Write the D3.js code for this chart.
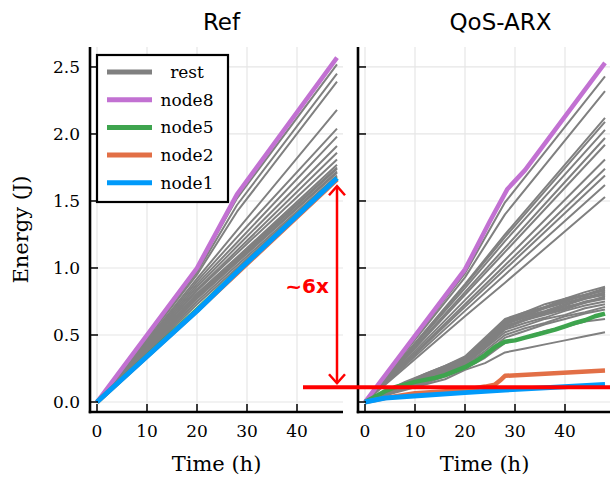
<!DOCTYPE html>
<html>
<head>
<meta charset="utf-8">
<script src="https://cdn.jsdelivr.net/npm/d3@7.9.0/dist/d3.min.js"></script>
<style>
  body { margin: 0; background: #fff; }
  text { fill: #000; }
  .tick-label { font-family: "DejaVu Serif", serif; font-size: 17px; }
  .axis-title { font-family: "DejaVu Serif", serif; font-size: 21px; }
  .panel-title { font-family: "DejaVu Sans", sans-serif; font-size: 23px; }
  .legend-label { font-family: "DejaVu Serif", serif; font-size: 17px; }
</style>
</head>
<body>
<svg id="fig" width="610" height="477"></svg>
<script>
// ---- data ----
const xTicks = [0, 10, 20, 30, 40];
const yTicks = [0, 0.5, 1.0, 1.5, 2.0, 2.5];
const yTickLabels = ["0.0", "0.5", "1.0", "1.5", "2.0", "2.5"];
const panelTitles = ["Ref", "QoS-ARX"];
const legendLabels = ["rest", "node8", "node5", "node2", "node1"];
const legendColors = ["#808080", "#c271d2", "#3ea44e", "#e26f46", "#009afa"];

// Ref panel (energy at these hours)
const refTimes = [0, 20, 28, 48];
const refRest = [
  [0, 0.99, 1.52, 2.52],
  [0, 0.97, 1.47, 2.45],
  [0, 0.95, 1.42, 2.39],
  [0, 0.92, 1.28, 2.18],
  [0, 0.90, 1.23, 2.04],
  [0, 0.88, 1.19, 1.98],
  [0, 0.86, 1.16, 1.91],
  [0, 0.84, 1.13, 1.86],
  [0, 0.83, 1.11, 1.81],
  [0, 0.81, 1.08, 1.77],
  [0, 0.80, 1.07, 1.75],
  [0, 0.79, 1.06, 1.74],
  [0, 0.78, 1.05, 1.72],
  [0, 0.77, 1.04, 1.71],
  [0, 0.75, 1.02, 1.69],
  [0, 0.73, 1.00, 1.68]
];
const refNode8 = [0, 1.00, 1.55, 2.57];
const refNode5 = [0, 0.69, 0.97, 1.67];
const refNode2 = [0, 0.68, 0.96, 1.66];
const refNode1 = [0, 0.68, 0.97, 1.67];

// QoS-ARX panel
const qosFanTimes = [0, 20, 28, 48];
const qosFanRest = [
  [0, 0.96, 1.49, 2.43],
  [0, 0.93, 1.40, 2.32],
  [0, 0.88, 1.25, 2.12],
  [0, 0.87, 1.23, 2.09],
  [0, 0.85, 1.20, 2.03],
  [0, 0.82, 1.15, 1.97],
  [0, 0.80, 1.12, 1.92],
  [0, 0.76, 1.06, 1.81],
  [0, 0.73, 1.02, 1.74],
  [0, 0.71, 0.99, 1.69],
  [0, 0.68, 0.95, 1.62],
  [0, 0.64, 0.89, 1.53]
];
const qosBundleTimes = [0, 4, 8, 12, 16, 20, 24, 28, 32, 36, 40, 44, 48];
const qosBundleRest = [
  [0, 0.08, 0.15, 0.21, 0.27, 0.34, 0.48, 0.62, 0.67, 0.73, 0.77, 0.82, 0.86],
  [0, 0.08, 0.14, 0.21, 0.27, 0.33, 0.47, 0.61, 0.67, 0.71, 0.77, 0.80, 0.85],
  [0, 0.07, 0.14, 0.20, 0.26, 0.33, 0.46, 0.60, 0.66, 0.70, 0.76, 0.79, 0.84],
  [0, 0.07, 0.14, 0.20, 0.25, 0.32, 0.46, 0.60, 0.65, 0.71, 0.75, 0.80, 0.83],
  [0, 0.07, 0.13, 0.19, 0.25, 0.32, 0.45, 0.59, 0.64, 0.70, 0.74, 0.78, 0.82],
  [0, 0.07, 0.13, 0.19, 0.24, 0.31, 0.45, 0.58, 0.64, 0.68, 0.73, 0.77, 0.81],
  [0, 0.07, 0.13, 0.18, 0.24, 0.31, 0.44, 0.58, 0.63, 0.67, 0.72, 0.77, 0.80],
  [0, 0.06, 0.12, 0.18, 0.23, 0.30, 0.43, 0.57, 0.61, 0.67, 0.71, 0.74, 0.79],
  [0, 0.06, 0.12, 0.17, 0.23, 0.30, 0.43, 0.56, 0.62, 0.66, 0.70, 0.75, 0.78],
  [0, 0.06, 0.12, 0.17, 0.23, 0.30, 0.42, 0.55, 0.61, 0.65, 0.69, 0.74, 0.77],
  [0, 0.06, 0.11, 0.17, 0.22, 0.29, 0.41, 0.54, 0.59, 0.63, 0.68, 0.72, 0.75],
  [0, 0.06, 0.11, 0.16, 0.22, 0.28, 0.40, 0.52, 0.57, 0.62, 0.65, 0.70, 0.73],
  [0, 0.05, 0.10, 0.15, 0.21, 0.27, 0.38, 0.50, 0.55, 0.59, 0.64, 0.67, 0.71],
  [0, 0.05, 0.10, 0.15, 0.20, 0.26, 0.36, 0.48, 0.53, 0.58, 0.62, 0.66, 0.69],
  [0, 0.05, 0.10, 0.14, 0.19, 0.25, 0.33, 0.44, 0.48, 0.53, 0.56, 0.60, 0.62],
  [0, 0.05, 0.09, 0.13, 0.17, 0.24, 0.29, 0.37, 0.40, 0.43, 0.46, 0.49, 0.52]
];
const qosNode8Times = [0, 20, 25, 28.5, 30, 32, 48];
const qosNode8 = [0, 0.99, 1.35, 1.59, 1.65, 1.73, 2.53];
const qosNode5Times = [0, 2, 4, 6, 8, 10, 12, 14, 16, 18, 20, 22, 24, 26, 28, 30, 32, 34, 36, 38, 40, 42, 44, 46, 48];
const qosNode5 = [0, 0.04, 0.08, 0.11, 0.13, 0.15, 0.165, 0.18, 0.20, 0.23, 0.26, 0.30, 0.35, 0.41, 0.45, 0.46, 0.48, 0.50, 0.52, 0.54, 0.565, 0.59, 0.61, 0.64, 0.66];
const qosNode2Times = [0, 4, 10, 20, 24, 26, 27, 28, 36, 48];
const qosNode2 = [0, 0.03, 0.065, 0.09, 0.115, 0.13, 0.16, 0.195, 0.21, 0.235];
const qosNode1Times = [0, 4, 12, 20, 28, 38, 48];
const qosNode1 = [0, 0.03, 0.05, 0.07, 0.09, 0.11, 0.13];

// annotation (data units)
const arrowHour = 48, arrowTop = 1.61, arrowBottom = 0.14;
const baseLevel = 0.11, baseFrom = 41.2;
const ratioLabel = "~6x";

// ---- layout ----
const svg = d3.select("#fig");
const W = 253, H = 365, plotTop = 47;
const panelX = [90, 358];

const x = d3.scaleLinear().domain([-1.4, 49.2]).range([0, W]);
const y = d3.scaleLinear().domain([-0.0746, 2.649]).range([H, 0]);

const toPts = (times, vals) => times.map((t, i) => [t, vals[i]]);
const line = d3.line().x(d => x(d[0])).y(d => y(d[1]));

function drawPanel(idx, series) {
  const g = svg.append("g").attr("transform", `translate(${panelX[idx]},${plotTop})`);
  g.append("clipPath").attr("id", "clip" + idx)
    .append("rect").attr("width", W).attr("height", H);

  // grid
  g.selectAll(".vg").data(xTicks).join("line")
    .attr("x1", d => x(d)).attr("x2", d => x(d)).attr("y1", 0).attr("y2", H)
    .attr("stroke", "#e6e6e6").attr("stroke-width", 1.2);
  g.selectAll(".hg").data(yTicks).join("line")
    .attr("x1", 0).attr("x2", W).attr("y1", d => y(d)).attr("y2", d => y(d))
    .attr("stroke", "#e6e6e6").attr("stroke-width", 1.2);

  const lines = g.append("g").attr("clip-path", `url(#clip${idx})`);
  series.forEach(s => {
    lines.append("path").attr("d", line(s.pts))
      .attr("fill", "none").attr("stroke", s.color).attr("stroke-width", s.w)
      .attr("stroke-linejoin", "round");
  });

  // ticks (inward)
  g.selectAll(".xt").data(xTicks).join("line")
    .attr("x1", d => x(d)).attr("x2", d => x(d)).attr("y1", H).attr("y2", H - 8)
    .attr("stroke", "#000").attr("stroke-width", 1.5);
  g.selectAll(".yt").data(yTicks).join("line")
    .attr("x1", 0).attr("x2", 8).attr("y1", d => y(d)).attr("y2", d => y(d))
    .attr("stroke", "#000").attr("stroke-width", 1.5);

  // axis lines
  g.append("line").attr("x1", 0).attr("x2", 0).attr("y1", 0).attr("y2", H + 1.2)
    .attr("stroke", "#000").attr("stroke-width", 2.6);
  g.append("line").attr("x1", -1.2).attr("x2", W).attr("y1", H).attr("y2", H)
    .attr("stroke", "#000").attr("stroke-width", 2.6);

  g.selectAll(".xl").data(xTicks).join("text").attr("class", "tick-label")
    .attr("x", d => x(d)).attr("y", H + 25).attr("text-anchor", "middle")
    .text(d => d);
  if (idx === 0) {
    g.selectAll(".yl").data(yTicks).join("text").attr("class", "tick-label")
      .attr("x", -10).attr("y", d => y(d) + 6).attr("text-anchor", "end")
      .text((d, i) => yTickLabels[i]);
  }
  g.append("text").attr("class", "axis-title")
    .attr("x", W / 2).attr("y", H + 59).attr("text-anchor", "middle").text("Time (h)");
  g.append("text").attr("class", "panel-title")
    .attr("x", W / 2 + (idx === 0 ? 5 : 16)).attr("y", -17).attr("text-anchor", "middle")
    .text(panelTitles[idx]);
  return g;
}

const gray = legendColors[0];
const refSeries = [
  ...refRest.map(v => ({ pts: toPts(refTimes, v), color: gray, w: 2 })),
  { pts: toPts(refTimes, refNode8), color: legendColors[1], w: 4.5 },
  { pts: toPts(refTimes, refNode5), color: legendColors[2], w: 4.5 },
  { pts: toPts(refTimes, refNode2), color: legendColors[3], w: 4.5 },
  { pts: toPts(refTimes, refNode1), color: legendColors[4], w: 5 }
];
const qosSeries = [
  ...qosFanRest.map(v => ({ pts: toPts(qosFanTimes, v), color: gray, w: 2 })),
  ...qosBundleRest.map(v => ({ pts: toPts(qosBundleTimes, v), color: gray, w: 2 })),
  { pts: toPts(qosNode8Times, qosNode8), color: legendColors[1], w: 4.5 },
  { pts: toPts(qosNode5Times, qosNode5), color: legendColors[2], w: 4.5 },
  { pts: toPts(qosNode2Times, qosNode2), color: legendColors[3], w: 4.5 },
  { pts: toPts(qosNode1Times, qosNode1), color: legendColors[4], w: 5 }
];

const gRef = drawPanel(0, refSeries);
drawPanel(1, qosSeries);

// y axis title
svg.append("text").attr("class", "axis-title")
  .attr("transform", `translate(28,${plotTop + H / 2}) rotate(-90)`)
  .attr("text-anchor", "middle").text("Energy (J)");

// legend
const leg = gRef.append("g").attr("transform", "translate(7,8)");
leg.append("rect").attr("width", 131).attr("height", 147)
  .attr("fill", "#fff").attr("stroke", "#000").attr("stroke-width", 2.2);
legendLabels.forEach((lab, i) => {
  const ly = 17 + i * 27.7;
  leg.append("line").attr("x1", 10).attr("x2", 55).attr("y1", ly).attr("y2", ly)
    .attr("stroke", legendColors[i]).attr("stroke-width", 5);
  leg.append("text").attr("class", "legend-label")
    .attr("x", 90).attr("y", ly + 6).attr("text-anchor", "middle").text(lab);
});

// red annotation
const red = "#ff0000";
const ax = panelX[0] + x(arrowHour);
const ay1 = plotTop + y(arrowTop), ay2 = plotTop + y(arrowBottom);
const ann = svg.append("g").attr("stroke", red).attr("fill", "none")
  .attr("stroke-width", 2.5);
ann.append("line").attr("x1", ax).attr("x2", ax).attr("y1", ay1).attr("y2", ay2);
ann.append("path").attr("d", `M${ax - 8},${ay1 + 9}L${ax},${ay1}L${ax + 8},${ay1 + 9}`);
ann.append("path").attr("d", `M${ax - 8},${ay2 - 9}L${ax},${ay2}L${ax + 8},${ay2 - 9}`);
ann.append("line")
  .attr("x1", panelX[0] + x(baseFrom)).attr("x2", panelX[1] + x(49.2))
  .attr("y1", plotTop + y(baseLevel)).attr("y2", plotTop + y(baseLevel))
  .attr("stroke-width", 4);
svg.append("text")
  .attr("x", panelX[0] + x(42)).attr("y", plotTop + y(0.81))
  .attr("text-anchor", "middle")
  .style("font-family", "DejaVu Sans, sans-serif").style("font-weight", "bold")
  .style("font-size", "20px").style("fill", red)
  .text(ratioLabel);
</script>
</body>
</html>
